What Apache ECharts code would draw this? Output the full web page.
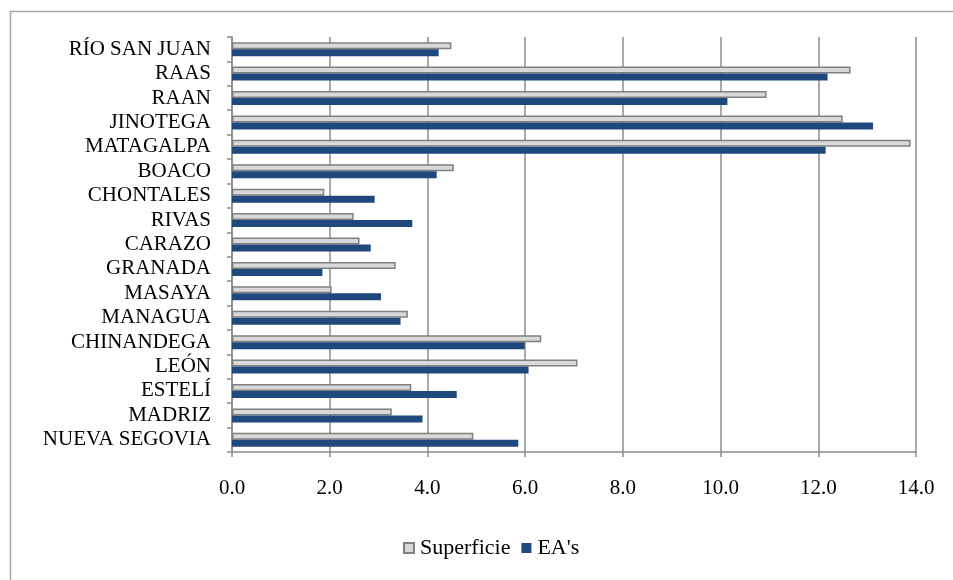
<!DOCTYPE html>
<html>
<head>
<meta charset="utf-8">
<script src="https://cdn.jsdelivr.net/npm/echarts@6/dist/echarts.min.js"></script>
<style>
  html, body { margin: 0; padding: 0; background: #fff; }
  #chart { width: 953px; height: 580px; }
</style>
</head>
<body>
<div id="chart"></div>
<script>
// Departments, listed top to bottom
const departamentos = [
  'RÍO SAN JUAN', 'RAAS', 'RAAN', 'JINOTEGA', 'MATAGALPA', 'BOACO',
  'CHONTALES', 'RIVAS', 'CARAZO', 'GRANADA', 'MASAYA', 'MANAGUA',
  'CHINANDEGA', 'LEÓN', 'ESTELÍ', 'MADRIZ', 'NUEVA SEGOVIA'
];
// Share of surface area (%)
const superficie = [
  4.49, 12.66, 10.94, 12.50, 13.89, 4.54,
  1.89, 2.49, 2.61, 3.35, 2.04, 3.60,
  6.33, 7.07, 3.67, 3.27, 4.94
];
// Share of agricultural holdings (%)
const eas = [
  4.23, 12.19, 10.14, 13.12, 12.15, 4.19,
  2.92, 3.69, 2.84, 1.85, 3.05, 3.45,
  5.99, 6.07, 4.60, 3.90, 5.86
];

const serif = '"Liberation Serif", "Times New Roman", serif';
const gridGray = '#8c8c8c';

const chart = echarts.init(document.getElementById('chart'));
chart.setOption({
  animation: false,
  backgroundColor: '#fff',
  graphic: [{
    type: 'rect',
    left: 8, top: 9,
    shape: { width: 960, height: 600 },
    style: { fill: 'none', stroke: '#a6a6a6', lineWidth: 1.5 },
    silent: true,
    z: -1
  }],
  grid: { left: 232, right: 37, top: 37, bottom: 128 },
  legend: {
    data: ['Superficie', "EA's"],
    left: 398,
    top: 532,
    icon: 'rect',
    itemWidth: 10,
    itemHeight: 10,
    itemGap: 11,
    textStyle: { fontFamily: serif, fontSize: 22, color: '#000', padding: [0, 0, 0, 1] }
  },
  xAxis: {
    type: 'value',
    min: 0, max: 14, interval: 2,
    axisLine: { show: true, lineStyle: { color: gridGray, width: 1.5 } },
    axisTick: { show: true, length: 5, lineStyle: { color: gridGray, width: 1.5 } },
    splitLine: { show: true, lineStyle: { color: gridGray, width: 1.5 } },
    axisLabel: {
      margin: 26,
      fontFamily: serif, fontSize: 21, color: '#000',
      formatter: v => v.toFixed(1)
    }
  },
  yAxis: {
    type: 'category',
    inverse: true,
    data: departamentos,
    axisLine: { show: true, lineStyle: { color: gridGray, width: 1.5 } },
    axisTick: { show: true, length: 5, lineStyle: { color: gridGray, width: 1.5 } },
    axisLabel: {
      interval: 0,
      hideOverlap: false,
      margin: 21,
      lineHeight: 22,
      fontFamily: serif, fontSize: 21, color: '#000'
    }
  },
  series: [
    {
      name: 'Superficie',
      type: 'bar',
      data: superficie,
      barWidth: 7,
      barGap: '0%',
      itemStyle: {
        color: '#d9d9d9',
        borderColor: '#808080',
        borderWidth: 1.5
      }
    },
    {
      name: "EA's",
      type: 'bar',
      data: eas,
      barWidth: 7,
      barGap: '0%',
      itemStyle: { color: '#1f497d' }
    }
  ]
});
</script>
</body>
</html>
